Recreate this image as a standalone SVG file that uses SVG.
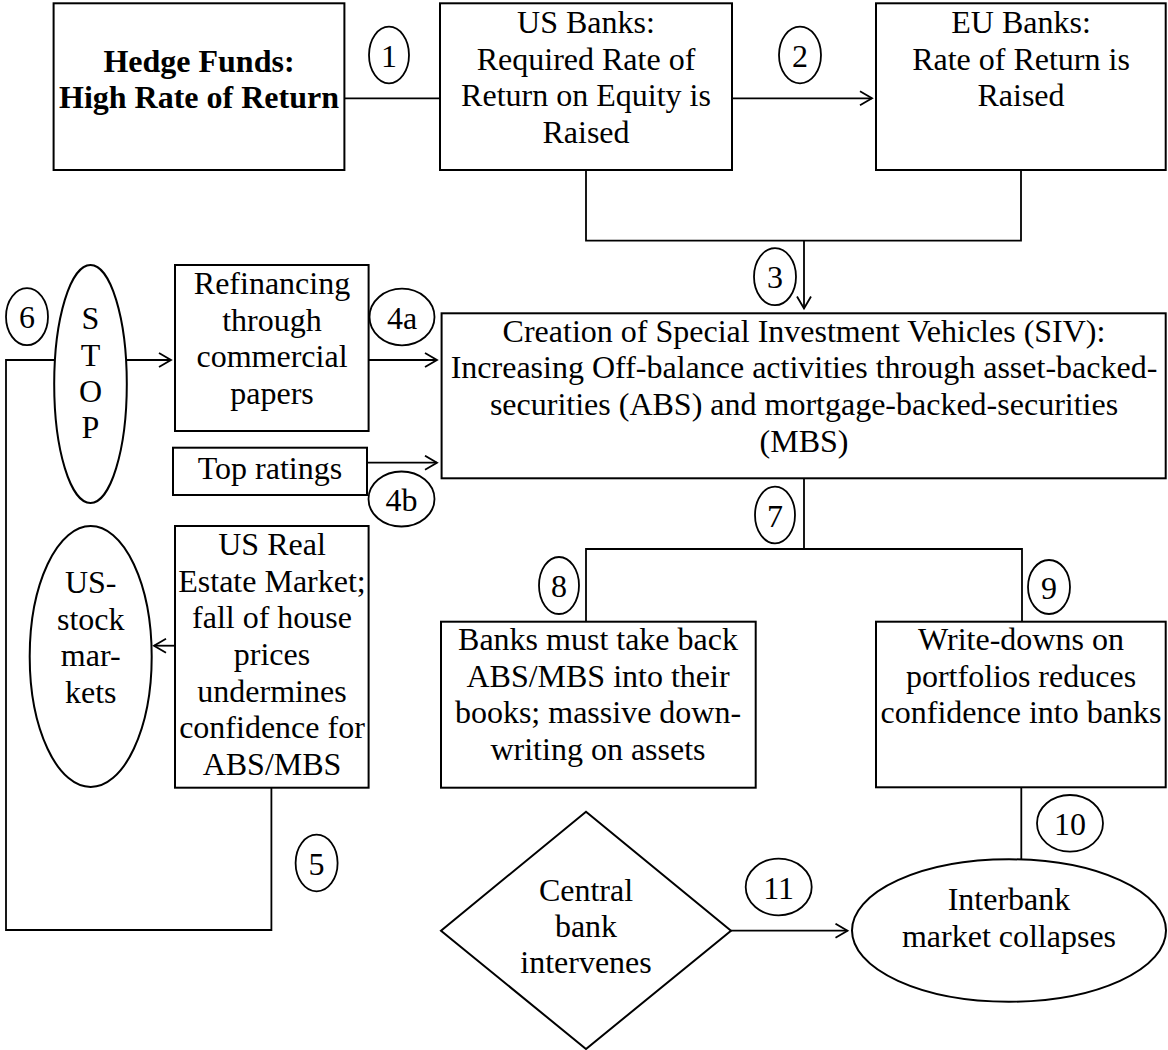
<svg xmlns="http://www.w3.org/2000/svg" width="1168" height="1050" viewBox="0 0 1168 1050">
<style>
text{font-family:"Liberation Serif","Times New Roman",serif;font-size:32px;fill:#000;text-anchor:middle}
.b{font-weight:bold}
.shape{fill:#fff;stroke:#000;stroke-width:2}
.num{fill:#fff;stroke:#000;stroke-width:1.8}
.ln{fill:none;stroke:#000;stroke-width:1.8}
</style>
<defs>
<marker id="arr" markerUnits="userSpaceOnUse" markerWidth="16" markerHeight="18" refX="13" refY="8" orient="auto">
<path d="M1,1 L13,8 L1,15" fill="none" stroke="#000" stroke-width="1.8"/>
</marker>
</defs>
<rect width="1168" height="1050" fill="#fff"/>
<g id="connectors">
<path class="ln" d="M344.4,98.3 H440"/>
<path class="ln" d="M732,98.3 H872" marker-end="url(#arr)"/>
<path class="ln" d="M586,170 V240.7 H1021 V170"/>
<path class="ln" d="M804,240.7 V308.5" marker-end="url(#arr)"/>
<path class="ln" d="M368.6,360 H437" marker-end="url(#arr)"/>
<path class="ln" d="M367,462.7 H437" marker-end="url(#arr)"/>
<path class="ln" d="M271.4,787.7 V930 H6 V360 H55"/>
<path class="ln" d="M126.5,360 H171" marker-end="url(#arr)"/>
<path class="ln" d="M175,645.7 H154" marker-end="url(#arr)"/>
<path class="ln" d="M804,478.3 V549 H586 V621.7 M804,549 H1022 V621.7"/>
<path class="ln" d="M1021.3,787.3 V859.3"/>
<path class="ln" d="M731,930.7 H847.5" marker-end="url(#arr)"/>
</g>
<g id="hedge">
<rect class="shape" x="53.6" y="3.3" width="290.8" height="166.7"/>
<text class="b" x="199" y="71.7">Hedge Funds:</text>
<text class="b" x="199" y="108.3">High Rate of Return</text>
</g>
<g id="usbanks">
<rect class="shape" x="440" y="3.3" width="292" height="166.7"/>
<text x="586" y="33">US Banks:</text>
<text x="586" y="69.7">Required Rate of</text>
<text x="586" y="106.3">Return on Equity is</text>
<text x="586" y="143">Raised</text>
</g>
<g id="eubanks">
<rect class="shape" x="876" y="3.3" width="289.7" height="166.7"/>
<text x="1021" y="33">EU Banks:</text>
<text x="1021" y="69.7">Rate of Return is</text>
<text x="1021" y="106.3">Raised</text>
</g>
<g id="siv">
<rect class="shape" x="441.6" y="313.3" width="724.1" height="165"/>
<text x="804" y="341.7">Creation of Special Investment Vehicles (SIV):</text>
<text x="804" y="378.3">Increasing Off-balance activities through asset-backed-</text>
<text x="804" y="415">securities (ABS) and mortgage-backed-securities</text>
<text x="804" y="451.7">(MBS)</text>
</g>
<g id="stop">
<ellipse class="shape" cx="90.5" cy="384" rx="36.3" ry="119"/>
<text x="90.5" y="329">S</text>
<text x="90.5" y="366">T</text>
<text x="90.5" y="401.7">O</text>
<text x="90.5" y="438.3">P</text>
</g>
<g id="refinancing">
<rect class="shape" x="175" y="265" width="193.6" height="166"/>
<text x="272" y="294">Refinancing</text>
<text x="272" y="330.5">through</text>
<text x="272" y="367">commercial</text>
<text x="272" y="403.5">papers</text>
</g>
<g id="topratings">
<rect class="shape" x="173" y="447.7" width="194" height="47.3"/>
<text x="270" y="479">Top ratings</text>
</g>
<g id="realestate">
<rect class="shape" x="175" y="526" width="193.6" height="261.7"/>
<text x="272" y="555">US Real</text>
<text x="272" y="591.7">Estate Market;</text>
<text x="272" y="628.3">fall of house</text>
<text x="272" y="665">prices</text>
<text x="272" y="701.7">undermines</text>
<text x="272" y="738.3">confidence for</text>
<text x="272" y="775">ABS/MBS</text>
</g>
<g id="usstock">
<ellipse class="shape" cx="90.7" cy="656.5" rx="61" ry="130.5"/>
<text x="90.7" y="593">US-</text>
<text x="90.7" y="629.7">stock</text>
<text x="90.7" y="666.3">mar-</text>
<text x="90.7" y="703">kets</text>
</g>
<g id="banksback">
<rect class="shape" x="441" y="621.7" width="314.7" height="166"/>
<text x="598" y="650">Banks must take back</text>
<text x="598" y="686.7">ABS/MBS into their</text>
<text x="598" y="723.3">books; massive down-</text>
<text x="598" y="760">writing on assets</text>
</g>
<g id="writedowns">
<rect class="shape" x="876" y="621.7" width="289.7" height="165.6"/>
<text x="1021" y="650">Write-downs on</text>
<text x="1021" y="686.7">portfolios reduces</text>
<text x="1021" y="723.3">confidence into banks</text>
</g>
<g id="centralbank">
<polygon class="shape" points="586,811.7 731,930.7 586,1049 441,930.7"/>
<text x="586" y="900.7">Central</text>
<text x="586" y="937">bank</text>
<text x="586" y="973.3">intervenes</text>
</g>
<g id="interbank">
<ellipse class="shape" cx="1009" cy="930.5" rx="157" ry="71.2"/>
<text x="1009" y="910">Interbank</text>
<text x="1009" y="946.7">market collapses</text>
</g>
<g id="labels">
<ellipse class="num" cx="389" cy="55" rx="20" ry="28.3"/><text x="389" y="66.5">1</text>
<ellipse class="num" cx="800" cy="55" rx="21" ry="28.3"/><text x="800" y="66.5">2</text>
<ellipse class="num" cx="775" cy="276.7" rx="21" ry="28.5"/><text x="775" y="288">3</text>
<ellipse class="num" cx="402" cy="317" rx="32.5" ry="28.3"/><text x="402" y="328.5">4a</text>
<ellipse class="num" cx="401.5" cy="499" rx="33" ry="27.5"/><text x="401.5" y="510.5">4b</text>
<ellipse class="num" cx="316.6" cy="863" rx="21" ry="28.3"/><text x="316.6" y="874.5">5</text>
<ellipse class="num" cx="27" cy="316.7" rx="21" ry="28.5"/><text x="27" y="328">6</text>
<ellipse class="num" cx="775" cy="515" rx="20" ry="28.3"/><text x="775" y="526.5">7</text>
<ellipse class="num" cx="559" cy="585.5" rx="20" ry="28.5"/><text x="559" y="597">8</text>
<ellipse class="num" cx="1049" cy="587" rx="21" ry="27"/><text x="1049" y="598.5">9</text>
<ellipse class="num" cx="1070" cy="823.3" rx="33" ry="28.3"/><text x="1070" y="834.8">10</text>
<ellipse class="num" cx="778.7" cy="887" rx="33" ry="28.3"/><text x="778.7" y="898.5">11</text>
</g>
</svg>
